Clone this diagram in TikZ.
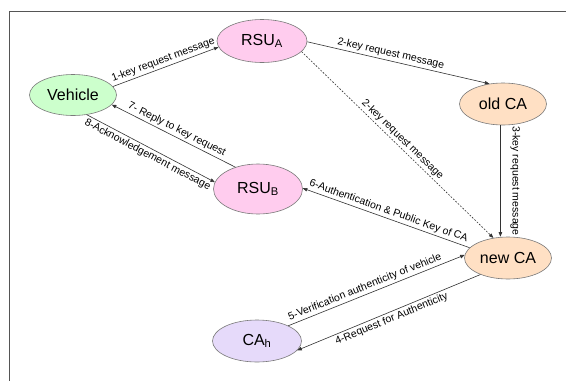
\documentclass[tikz,border=0pt]{standalone}
\usepackage{fontspec}
\setmainfont{Liberation Sans}
\usetikzlibrary{shapes.geometric,arrows.meta}
\definecolor{vehfill}{HTML}{CCFFCC}
\definecolor{rsufill}{HTML}{FFCCEE}
\definecolor{cafill}{HTML}{FFE0C4}
\definecolor{cahfill}{HTML}{E6DAFA}
\definecolor{edgecol}{HTML}{333333}
\definecolor{outline}{HTML}{7A7A7A}
\definecolor{framecol}{HTML}{555555}
\tikzset{
  entity/.style={ellipse, draw=outline, line width=0.6pt, inner sep=0pt,
    font=\fontsize{16}{18}\selectfont},
  msg/.style={draw=edgecol, line width=0.6pt, -{Triangle[length=4.5pt,width=3.5pt]}},
  msgback/.style={draw=edgecol, line width=0.6pt, {Triangle[length=4.5pt,width=3.5pt]}-},
  lbl/.style={font=\fontsize{10.5}{12}\selectfont, inner sep=2pt, text=black},
}
\begin{document}
\begin{tikzpicture}[x=1pt,y=-1pt]
\useasboundingbox (0,0) rectangle (566,381);
\fill[white] (0,0) rectangle (566,381);
\draw[framecol, line width=0.8pt] (566,11) -- (9,11) -- (9,381);

\node[entity, fill=vehfill, minimum width=87pt, minimum height=41pt] (veh) at (73,95) {Vehicle};
\node[entity, fill=rsufill, minimum width=90pt, minimum height=43pt] (rsua) at (262,41) {RSU\textsubscript{A}};
\node[entity, fill=rsufill, minimum width=89pt, minimum height=50pt] (rsub) at (258,189) {RSU\textsubscript{B}};
\node[entity, fill=cafill, minimum width=87pt, minimum height=42pt] (oldca) at (503,104) {old CA};
\node[entity, fill=cafill, minimum width=87pt, minimum height=42pt] (newca) at (508,258) {new CA};
\node[entity, fill=cahfill, minimum width=89pt, minimum height=42pt] (cah) at (257,341) {CA\textsubscript{h}};

% 1
\draw[msg] (veh.12) -- (rsua.188) node[lbl, midway, sloped, above] {1-key request message};
% 2
\draw[msg] (rsua.-1) -- (oldca.124) node[lbl, pos=0.45, sloped, above] {2-key request message};
% 2 dashed
\draw[msg, dash pattern=on 1.8pt off 1.5pt] (rsua.-15) -- (newca.126) node[lbl, midway, sloped, above] {2-key request message};
% 3
\draw[msg] (oldca.-97) -- (newca.north -| oldca.-97) node[lbl, midway, xshift=15pt, rotate=-90] {3-key request message};
% 6
\draw[msgback] (rsub.1) -- (newca.165) node[lbl, midway, sloped, above] {6-Authentication \& Public Key of CA};
% 5
\draw[msg] (cah.26) -- (newca.176) node[lbl, pos=0.45, sloped, above] {5-Verification authenticity of vehicle};
% 4
\draw[msgback] (cah.-13) -- (newca.211) node[lbl, midway, sloped, below] {4-Request for Authenticity};
% 7
\draw[msgback] (veh.-14) -- (rsub.136) node[lbl, midway, sloped, above] {7- Reply to key request};
% 8
\draw[msg] (veh.-55) -- (rsub.171) node[lbl, midway, sloped, below] {8-Acknowledgement message};
\end{tikzpicture}
\end{document}
